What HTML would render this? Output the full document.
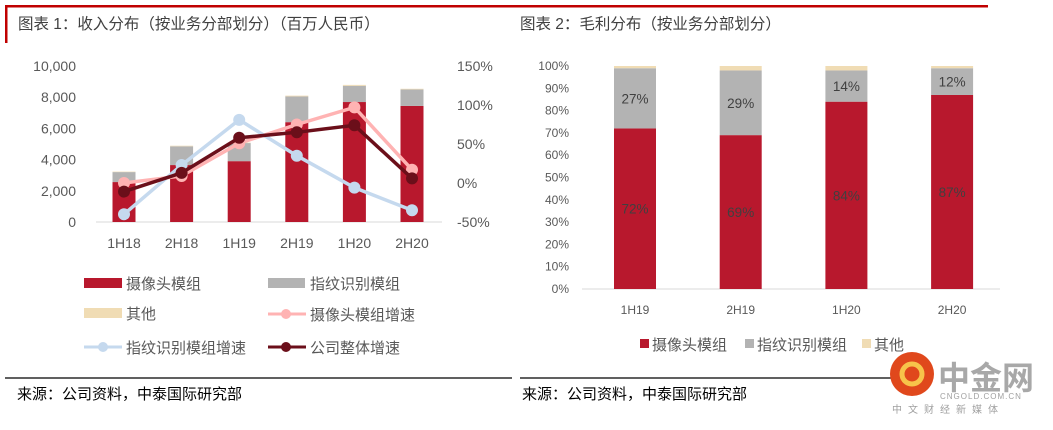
<!DOCTYPE html>
<html><head><meta charset="utf-8">
<style>
body{margin:0;width:1053px;height:425px;background:#fff;overflow:hidden;font-family:"Liberation Sans","Noto Sans CJK SC",sans-serif}
svg text{font-family:"Liberation Sans","Noto Sans CJK SC",sans-serif}
</style></head><body>
<svg id="s" width="1053" height="425">
<rect x="5" y="5" width="983" height="2.5" fill="#c00000"/>
<rect x="5" y="5" width="2.5" height="38" fill="#c00000"/>
<text x="18" y="29" font-size="15.5" fill="#404040">图表 1：收入分布（按业务分部划分）（百万人民币）</text>
<text x="520" y="29" font-size="15.5" fill="#404040">图表 2：毛利分布（按业务分部划分）</text>
<g id="c1"></g>
<g id="c2"></g>
<g font-size="15" fill="#595959">
<g><rect x="84" y="278" width="38" height="10" fill="#b8182d"/><text x="126" y="289">摄像头模组</text></g>
<g><rect x="268" y="278" width="37" height="10" fill="#b3b3b3"/><text x="310" y="289">指纹识别模组</text></g>
<g><rect x="84" y="308" width="38" height="10" fill="#f0dcb4"/><text x="126" y="319">其他</text></g>
<g><line x1="268" y1="314" x2="306" y2="314" stroke="#ffb3b3" stroke-width="3"/><circle cx="286" cy="314" r="5" fill="#ffb3b3"/><text x="310" y="320">摄像头模组增速</text></g>
<g><line x1="84" y1="347" x2="122" y2="347" stroke="#c5d9ee" stroke-width="3"/><circle cx="103" cy="347" r="5" fill="#c5d9ee"/><text x="126" y="353">指纹识别模组增速</text></g>
<g><line x1="268" y1="347" x2="306" y2="347" stroke="#6b0f1a" stroke-width="3"/><circle cx="286" cy="347" r="5" fill="#6b0f1a"/><text x="310" y="353">公司整体增速</text></g>
</g>
<g font-size="15" fill="#595959">
<g><rect x="640" y="339" width="9" height="9" fill="#b8182d"/><text x="652" y="350">摄像头模组</text></g>
<g><rect x="745" y="339" width="9" height="9" fill="#b3b3b3"/><text x="757" y="350">指纹识别模组</text></g>
<g><rect x="862" y="339" width="9" height="9" fill="#f0dcb4"/><text x="874" y="350">其他</text></g>
</g>
<line x1="5" y1="378" x2="512" y2="378" stroke="#000" stroke-width="1.3"/>
<line x1="520" y1="378" x2="900" y2="378" stroke="#000" stroke-width="1.3"/>
<text x="17" y="399" font-size="15" fill="#000">来源：公司资料，中泰国际研究部</text>
<text x="522" y="399" font-size="15" fill="#000">来源：公司资料，中泰国际研究部</text>
<g>
<circle cx="912" cy="374" r="22" fill="#e0481c"/>
<circle cx="912" cy="374" r="10" fill="none" stroke="#f7c44a" stroke-width="5"/>
<text x="938" y="389" font-size="32" font-weight="bold" fill="#a8a8a8">中金网</text>
<text x="940" y="399" font-size="8" fill="#a0a0a0" letter-spacing="1">CNGOLD.COM.CN</text>
<text x="892" y="413" font-size="10" fill="#a0a0a0" letter-spacing="6">中文财经新媒体</text>
</g>
</svg>
<script>
const periods1=["1H18","2H18","1H19","2H19","1H20","2H20"];
const camera1=[2560,3650,3900,6400,7690,7440];
const finger1=[640,1200,1160,1650,1040,1060];
const other1=[30,40,30,50,60,40];
const camGrowth=[0,9,51,75,97,17];
const fpGrowth=[-40,23,81,35,-6,-35];
const totalGrowth=[-11,13,58,65,74,6];
const leftTicks=[0,2000,4000,6000,8000,10000];
const rightTicks=[-50,0,50,100,150];
const periods2=["1H19","2H19","1H20","2H20"];
const camera2=[72,69,84,87];
const finger2=[27,29,14,12];
const other2=[1,2,2,1];
const NS="http://www.w3.org/2000/svg";
function mk(p,t,a){const e=document.createElementNS(NS,t);for(const k in a)e.setAttribute(k,a[k]);p.appendChild(e);return e;}
const g1=document.getElementById('c1');
const x1=i=>124+i*57.6, yL=v=>222-v*0.0156, yR=v=>183-v*0.78;
leftTicks.forEach(t=>{const e=mk(g1,'text',{x:76,y:yL(t)+5,'text-anchor':'end','font-size':14,fill:'#595959'});e.textContent=t.toLocaleString('en-US');

});
rightTicks.forEach(t=>{const e=mk(g1,'text',{x:457,y:yR(t)+5,'font-size':14,fill:'#595959'});e.textContent=t+'%';

});
const ax=mk(g1,'line',{x1:96,y1:222,x2:442,y2:222,stroke:'#d9d9d9'});


periods1.forEach((p,i)=>{
  const cx=x1(i),w=23;let base=0;
  [[camera1,'#b8182d','bar-camera'],[finger1,'#b3b3b3','bar-fingerprint'],[other1,'#f0dcb4','bar-other']].forEach(([arr,c,n])=>{
    const r=mk(g1,'rect',{x:cx-w/2,y:yL(base+arr[i]),width:w,height:yL(base)-yL(base+arr[i]),fill:c});
    
    
    base+=arr[i];});
  const t=mk(g1,'text',{x:cx,y:248,'text-anchor':'middle','font-size':14,fill:'#595959'});t.textContent=p;
  
  
});
[[camGrowth,'#ffb3b3','camera-growth-line'],[fpGrowth,'#c5d9ee','fingerprint-growth-line'],[totalGrowth,'#6b0f1a','total-growth-line']].forEach(([arr,c,n])=>{
  const pl=mk(g1,'polyline',{points:arr.map((v,i)=>x1(i)+','+yR(v)).join(' '),fill:'none',stroke:c,'stroke-width':3.5});
  
  
  arr.forEach((v,i)=>{const ci=mk(g1,'circle',{cx:x1(i),cy:yR(v),r:6,fill:c});
    
    });
});
const g2=document.getElementById('c2');
const x2=i=>635+i*105.7, yP=v=>289-v*2.23;
for(let t=0;t<=100;t+=10){const e=mk(g2,'text',{x:569,y:yP(t)+4,'text-anchor':'end','font-size':12,fill:'#595959'});e.textContent=t+'%';

}
const ax2=mk(g2,'line',{x1:582,y1:289,x2:1000,y2:289,stroke:'#d9d9d9'});


periods2.forEach((p,i)=>{
  const cx=x2(i),w=42;let base=0;
  [[camera2,'#b8182d','bar-camera-share'],[finger2,'#b3b3b3','bar-fingerprint-share'],[other2,'#f0dcb4','bar-other-share']].forEach(([arr,c,n],k)=>{
    const r=mk(g2,'rect',{x:cx-w/2,y:yP(base+arr[i]),width:w,height:yP(base)-yP(base+arr[i]),fill:c});
    
    
    if(k<2){const t=mk(g2,'text',{x:cx,y:yP(base+arr[i]/2)+5,'text-anchor':'middle','font-size':13.5,fill:'#404040'});t.textContent=arr[i]+'%';
      
      }
    base+=arr[i];});
  const t=mk(g2,'text',{x:cx,y:314,'text-anchor':'middle','font-size':12,fill:'#595959'});t.textContent=p;
  
  
});
</script>
</body></html>
